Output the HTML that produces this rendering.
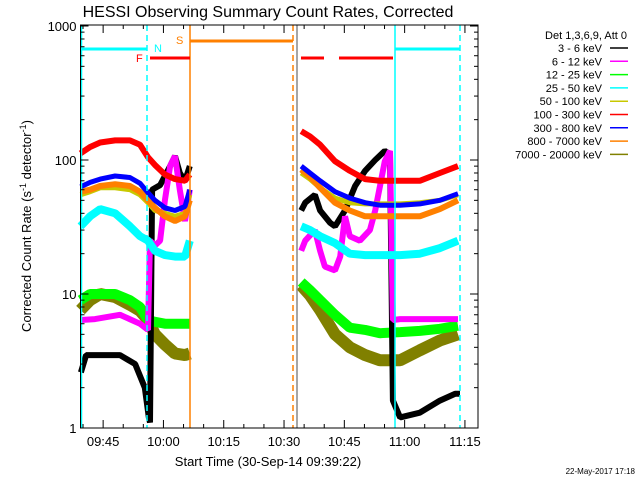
<!DOCTYPE html>
<html><head><meta charset="utf-8"><style>
html,body{margin:0;padding:0;background:#fff;}
svg{display:block;font-family:"Liberation Sans",sans-serif;}
</style></head><body>
<svg id="chart" width="640" height="480" viewBox="0 0 640 480">
<rect width="640" height="480" fill="#fff"/>
<text x="268" y="17" font-size="16" text-anchor="middle">HESSI Observing Summary Count Rates, Corrected</text>
<g id="series"></g>
<g id="overlay"></g>
<g id="axes"></g>
<text x="268" y="466" font-size="13" text-anchor="middle">Start Time (30-Sep-14 09:39:22)</text>
<text transform="translate(31,226) rotate(-90)" font-size="13" text-anchor="middle">Corrected Count Rate (s<tspan font-size="9" dy="-5">-1</tspan><tspan dy="5"> detector</tspan><tspan font-size="9" dy="-5">-1</tspan><tspan dy="5">)</tspan></text>
<g id="legend"></g>
<text x="635" y="474" font-size="8" text-anchor="end">22-May-2017 17:18</text>
</svg>
<script>
// time in minutes since 09:39:22
const t1 = [0,2.4,4.9,8.6,12.3,14.8,16.8,18.5,21.0,23.5,26.0,27.2];
const t2 = [54.9,57.1,59.6,63.3,67.0,70.8,74.5,79.5,84.4,89.4,93.9];
const red1 = [112,125,135,140,140,130,105,92,78,72,70,78];
const red2 = [164,150,130,98,83,72,70,70,70,80,90];
const blue1 = [63,68,72,76,74,67,57,50,44,42,45,60];
const blue2 = [90,80,70,58,52,48,46,46,47,50,56];
const orange1 = [58,60,64,66,64,58,50,44,38,35,38,50];
const orange2 = [85,75,62,48,42,38,38,38,38,43,50];
const yellow1 = [55,58,62,62,60,55,48,42,40,38,40,55];
const yellow2 = [80,72,62,52,48,47,47,47,48,50,55];
const cyan1 = [32,38,43,40,32,27,25,21,19.5,19,19,25];
const cyan2 = [32,30,27,24,20,19.5,19.5,19.5,20,22,25];
const green1 = [9,10,10,10,9,8,6.4,6.2,6,6,6,6];
const green2 = [12.3,10.7,9,7,5.6,5.4,5.1,5.2,5.3,5.5,5.8];
const olive1 = [7.6,9,10,9.5,8.3,7.5,6.4,5,4.2,3.6,3.5,3.6];
const olive2 = [11.6,9.8,7.6,5,4,3.5,3.2,3.2,3.8,4.5,5];
const blackT1 = [0.1,1.4,4.9,9.8,13.6,16.0,17.0,17.3,17.8,19.8,22.3,23.5,24.7,26.0,27.2];
const black1 = [2.6,3.5,3.5,3.5,3,2,1.2,1.1,60,65,90,107,80,70,90];
const blackT2 = [54.9,55.9,58.3,59.6,62.1,63.3,65.8,68.3,70.8,73.3,75.7,77.0,77.7,79.5,84.4,89.4,93.2,94.4];
const black2 = [42,48,55,42,34,32,42,64,83,100,117,110,1.6,1.2,1.3,1.6,1.8,1.8];
const magT1 = [0.1,3.6,9.8,14.8,16.8,17.3,18.5,19.8,21.0,22.3,23.5,24.7,26.0,27.2];
const mag1 = [6.4,6.5,7,6,5.4,25,23,25,50,90,107,60,35,60];
const magT2 = [54.9,55.9,58.3,59.6,60.8,63.3,64.6,65.8,67.0,69.5,72.0,73.3,74.5,75.7,77.0,77.7,79.5,93.9];
const mag2 = [21,25,30,21,16,15,19,38,27,25,30,42,64,98,117,6.4,6.5,6.5];
const legendLabels = ["3 - 6 keV","6 - 12 keV","12 - 25 keV","25 - 50 keV","50 - 100 keV","100 - 300 keV","300 - 800 keV","800 - 7000 keV","7000 - 20000 keV"];
const xTickLabels = ["09:45","10:00","10:15","10:30","10:45","11:00","11:15"];
const xTickMinutes = [5.63,20.63,35.63,50.63,65.63,80.63,95.63];
const yTickValues = [1,10,100,1000];

const NS='http://www.w3.org/2000/svg';
const X0=80.5, X1=478, Y0=25, Y1=428, PXMIN=4.02, DEC=134;
function xs(t){return X0+t*PXMIN;}
function ys(v){return Y1-DEC*Math.log10(v);}
function mk(tag,attrs,parent){const e=document.createElementNS(NS,tag);for(const k in attrs)e.setAttribute(k,attrs[k]);parent.appendChild(e);return e;}
const gS=document.getElementById('series'), gO=document.getElementById('overlay'), gA=document.getElementById('axes'), gL=document.getElementById('legend');

function linePath(ts,vs){let d='';for(let i=0;i<ts.length;i++){const x=xs(ts[i]).toFixed(1),y=ys(vs[i]).toFixed(1);d+=(i?`L${x},${y}`:`M${x},${y}`);}return d;}
const series=[
 ['olive-7000-20000',[[t1,olive1],[t2,olive2]],'#808000',12],
 ['green-12-25',[[t1,green1],[t2,green2]],'#00ff00',10],
 ['black-3-6',[[blackT1,black1],[blackT2,black2]],'#000',6],
 ['magenta-6-12',[[magT1,mag1],[magT2,mag2]],'#ff00ff',6],
 ['cyan-25-50',[[t1,cyan1],[t2,cyan2]],'#00ffff',8],
 ['yellow-50-100',[[t1,yellow1],[t2,yellow2]],'#c8c800',5],
 ['orange-800-7000',[[t1,orange1],[t2,orange2]],'#ff8000',6],
 ['blue-300-800',[[t1,blue1],[t2,blue2]],'#0000ff',5],
 ['red-100-300',[[t1,red1],[t2,red2]],'#ff0000',6]
];
series.forEach(s=>{s[1].forEach((seg,i)=>{
 const p=mk('path',{d:linePath(seg[0],seg[1]),fill:'none',stroke:s[2],'stroke-width':s[3],'stroke-linejoin':'bevel'},gS);
 
 
});});

function vline(x,color,dash,name){const l=mk('line',{x1:x,x2:x,y1:Y0,y2:Y1,stroke:color,'stroke-width':1.5},gO);if(dash)l.setAttribute('stroke-dasharray','6,4');
 
 }
vline(81.5,'#00ffff',false,'saa-start-line');
vline(147,'#00ffff',true,'night-start-line');
vline(190,'#ff8000',false,'saa-line');
vline(293,'#ff8000',true,'saa-end-line');
vline(297,'#888',false,'data-resume-line');
vline(395,'#00ffff',false,'night-line');
vline(460,'#00ffff',true,'night-end-line');
function hbar(xa,xb,y,color,w,name){const l=mk('line',{x1:xa,x2:xb,y1:y,y2:y,stroke:color,'stroke-width':w},gO);
 
 }
hbar(81,147,49,'#00ffff',3,'night-bar-1');
hbar(395,460,49,'#00ffff',3,'night-bar-2');
hbar(190,293,41,'#ff8000',3,'saa-bar');
hbar(150,190,58,'#ff0000',3,'flare-bar-1');
hbar(301,324,58,'#ff0000',3,'flare-bar-2');
hbar(339,393,58,'#ff0000',3,'flare-bar-3');
function lbl(x,y,txt,color,name){const t=mk('text',{x:x,y:y,fill:color,'font-size':11},gO);t.textContent=txt;
 
 }
lbl(136,62,'F','#ff0000','flare-label');
lbl(154,52,'N','#00ffff','night-label');
lbl(176,44,'S','#ff8000','saa-label');

const fr=mk('rect',{x:X0,y:Y0,width:X1-X0,height:Y1-Y0,fill:'none',stroke:'#000','stroke-width':1},gA);


yTickValues.forEach(v=>{const y=ys(v);
 mk('line',{x1:X0,x2:X0+8,y1:y,y2:y,stroke:'#000'},gA);mk('line',{x1:X1-8,x2:X1,y1:y,y2:y,stroke:'#000'},gA);
 const t=mk('text',{x:X0-4,y:y+5,'font-size':13,'text-anchor':'end'},gA);t.textContent=String(v);
 
 
 if(v<1000)for(let m=2;m<10;m++){const yy=ys(v*m);mk('line',{x1:X0,x2:X0+4,y1:yy,y2:yy,stroke:'#000'},gA);mk('line',{x1:X1-4,x2:X1,y1:yy,y2:yy,stroke:'#000'},gA);}
});
for(let m=0.63;m<99;m+=5){const x=xs(m);const maj=xTickMinutes.some(q=>Math.abs(q-m)<0.01);const L=maj?8:4;
 mk('line',{x1:x,x2:x,y1:Y1,y2:Y1-L,stroke:'#000'},gA);mk('line',{x1:x,x2:x,y1:Y0,y2:Y0+L,stroke:'#000'},gA);}
xTickLabels.forEach((s,i)=>{const x=xs(xTickMinutes[i]);if(x>X1+20)return;const t=mk('text',{x:x,y:446,'font-size':13,'text-anchor':'middle'},gA);t.textContent=s;
 
 });

const lgColors=['#000','#ff00ff','#00ff00','#00ffff','#c8c800','#ff0000','#0000ff','#ff8000','#808000'];
const hd=mk('text',{x:627,y:39,'font-size':11,'text-anchor':'end'},gL);hd.textContent='Det 1,3,6,9, Att 0';


legendLabels.forEach((s,i)=>{const y=52+i*13.3;
 const t=mk('text',{x:602,y:y,'font-size':11,'text-anchor':'end'},gL);t.textContent=s;
 
 
 mk('line',{x1:610,x2:628,y1:y-4,y2:y-4,stroke:lgColors[i],'stroke-width':1.5},gL);});
</script>
</body></html>
